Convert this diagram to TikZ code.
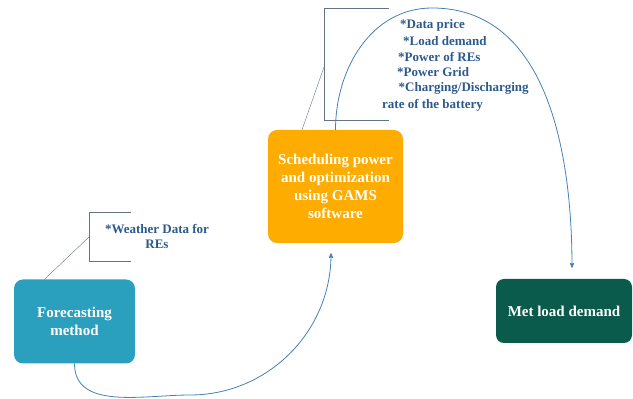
\documentclass[tikz,border=0pt]{standalone}
\usepackage{fontspec}
\setmainfont{Liberation Serif}
\usetikzlibrary{arrows,positioning,calc}

\definecolor{forecastc}{RGB}{43,160,190}
\definecolor{schedc}{RGB}{255,172,0}
\definecolor{metc}{RGB}{10,91,76}
\definecolor{notec}{RGB}{44,90,140}
\definecolor{flowc}{RGB}{70,128,184}
\definecolor{bracketc}{RGB}{100,116,136}

\begin{document}
\begin{tikzpicture}[x=1pt,y=1pt,
	process/.style={rectangle,rounded corners=9pt,text=white,align=center,
		font=\fontsize{15}{18}\selectfont\bfseries,inner sep=0pt},
	note/.style={text=notec,inner sep=0pt,font=\fontsize{13}{15}\selectfont\bfseries},
	paths/.style={->,>=stealth',draw=flowc,thick},
	bracket/.style={draw=bracketc,thin}
	] % boxes, notes and flows

\useasboundingbox (0,0) rectangle (633,399);

\node [process,fill=forecastc,minimum width=121pt,minimum height=84pt] at (74.5,77.5) (fc) {Forecasting\\method};
\node [process,fill=schedc,minimum width=135pt,minimum height=113pt] at (335.5,212.5) (sched) {Scheduling power\\and optimization\\using GAMS\\software};
\node [process,fill=metc,minimum width=136pt,minimum height=64pt,rounded corners=8pt] at (564,88) (met) {Met load demand};

% weather note
\node [note,align=center] at (157,162.5) (wnote) {*Weather Data for\\REs};
\coordinate (w1) at (131,187);
\coordinate (w2) at (89,187);
\coordinate (w3) at (89,138);
\coordinate (w4) at (131,138);
\coordinate (wm) at (89,162);
\draw [bracket] (w1) -- (w2) -- (w3) -- (w4);
\draw [bracket] (wm) -- ([xshift=-30pt]fc.north);

% input list of the optimization
\node [note,anchor=west] at (400,374) (n1) {*Data price};
\node [note,anchor=west] at (403,358) (n2) {*Load demand};
\node [note,anchor=west] at (398,342) (n3) {*Power of REs};
\node [note,anchor=west] at (397,327) (n4) {*Power Grid};
\node [note,anchor=west] at (398.5,310.5) (n5) {*Charging/Discharging};
\node [note,anchor=west] at (382,294) (n6) {rate of the battery};
\coordinate (s1) at (389,391);
\coordinate (s2) at (324,391);
\coordinate (s3) at (324,279);
\coordinate (s4) at (389,279);
\coordinate (sm) at (324,332);
\draw [bracket] (s1) -- (s2) -- (s3) -- (s4);
\draw [bracket] (sm) -- ([xshift=-33.5pt]sched.north);

% flows
\coordinate (low) at (190,4);
\coordinate (top) at (432,391);
\draw [paths] (fc.south) to[out=-90,in=180] (low) to[out=0,in=-90] ([xshift=-4.5pt,yshift=-10pt]sched.south);
\draw [paths] (sched.north) to[out=90,in=180] (top) to[out=0,in=90] ([xshift=8pt,yshift=11pt]met.north);
\end{tikzpicture}
\end{document}
